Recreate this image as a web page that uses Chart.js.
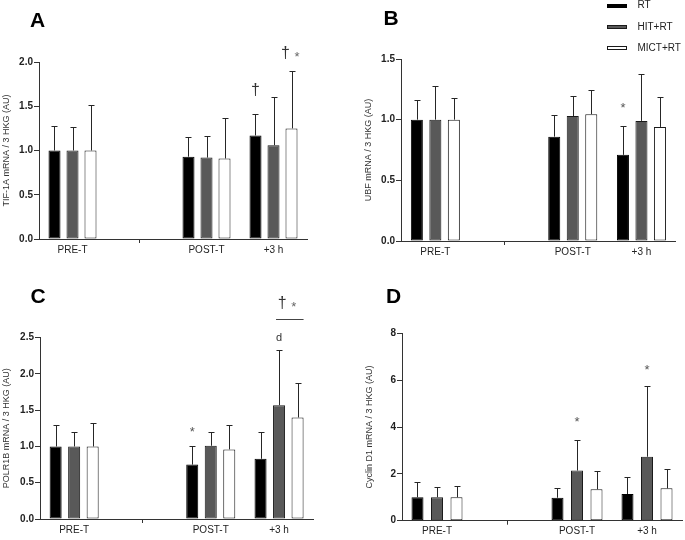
<!DOCTYPE html>
<html><head><meta charset="utf-8">
<script src="https://cdn.jsdelivr.net/npm/chart.js@4"></script>
<style>
html,body{margin:0;padding:0;background:#fff;}
#wrap{position:relative;width:685px;height:540px;overflow:hidden;}
.p{position:absolute;}
canvas{display:block;}
</style></head><body>
<div id="wrap">
<div class="p" style="left:0;top:0"><canvas id="cA" width="340" height="270"></canvas></div>
<div class="p" style="left:340px;top:0"><canvas id="cB" width="345" height="270"></canvas></div>
<div class="p" style="left:0;top:270px"><canvas id="cC" width="340" height="270"></canvas></div>
<div class="p" style="left:340px;top:270px"><canvas id="cD" width="345" height="270"></canvas></div>
</div>
<script>
// ---------- data ----------
const categories = ['PRE-T', '', 'POST-T', '+3 h'];
const groups = ['RT', 'HIT+RT', 'MICT+RT'];

// A: TIF-1A
const tifRT     = [1.00, null, 0.93, 1.17];
const tifHIT    = [1.00, null, 0.92, 1.06];
const tifMICT   = [1.00, null, 0.91, 1.25];
const tifRTsd   = [0.28, null, 0.22, 0.24];
const tifHITsd  = [0.26, null, 0.24, 0.55];
const tifMICTsd = [0.51, null, 0.46, 0.65];
const tifTicks  = [0, 0.5, 1.0, 1.5, 2.0];

// B: UBF
const ubfRT     = [1.00, null, 0.86, 0.71];
const ubfHIT    = [1.00, null, 1.03, 0.99];
const ubfMICT   = [1.00, null, 1.045, 0.94];
const ubfRTsd   = [0.16, null, 0.18, 0.24];
const ubfHITsd  = [0.28, null, 0.165, 0.39];
const ubfMICTsd = [0.18, null, 0.20, 0.25];
const ubfTicks  = [0, 0.5, 1.0, 1.5];

// C: POLR1B
const polRT     = [1.00, null, 0.75, 0.83];
const polHIT    = [1.00, null, 1.01, 1.57];
const polMICT   = [1.00, null, 0.96, 1.40];
const polRTsd   = [0.29, null, 0.25, 0.37];
const polHITsd  = [0.20, null, 0.19, 0.76];
const polMICTsd = [0.32, null, 0.33, 0.48];
const polTicks  = [0, 0.5, 1.0, 1.5, 2.0, 2.5];

// D: Cyclin D1
const cycRT     = [1.00, null, 0.98, 1.14];
const cycHIT    = [1.00, null, 2.14, 2.73];
const cycMICT   = [1.00, null, 1.34, 1.38];
const cycRTsd   = [0.64, null, 0.43, 0.71];
const cycHITsd  = [0.42, null, 1.31, 3.00];
const cycMICTsd = [0.47, null, 0.80, 0.81];
const cycTicks  = [0, 2, 4, 6, 8];

// significance marks (category index, series index, symbol, y value)
const notesA = [{cat:3, series:0, text:'†', y:1.684}, {cat:3, series:2, text:'† *', y:2.11}];
const notesB = [{cat:3, series:0, text:'*', y:1.117}];
const notesC = [{cat:2, series:0, text:'*', y:1.228}, {cat:3, series:1, text:'d', y:2.51},
                {cat:3, series:1.5, text:'† *', y:2.99}, {cat:3, from:1, to:2, text:'line', y:2.76}];
const notesD = [{cat:2, series:1, text:'*', y:4.30}, {cat:3, series:1, text:'*', y:6.54}];

// ---------- rendering ----------
const FAM = '"Liberation Sans", Arial, Helvetica, sans-serif';
Chart.defaults.font.family = FAM;

const errPlugin = {
  id: 'errbars',
  afterDatasetsDraw(chart, args, opts) {
    const ctx = chart.ctx, ys = chart.scales.y;
    ctx.save();
    ctx.strokeStyle = '#262626'; ctx.lineWidth = 1;
    chart.data.datasets.forEach((ds, i) => {
      const meta = chart.getDatasetMeta(i), sd = opts.sd[i];
      meta.data.forEach((bar, j) => {
        const v = ds.data[j], e = sd[j];
        if (v == null || e == null) return;
        const top = Math.round(ys.getPixelForValue(v + e)) + 0.5;
        const x = Math.round(bar.x) + 0.5, half = bar.width / 4;
        ctx.beginPath();
        ctx.moveTo(x, bar.y); ctx.lineTo(x, top);
        ctx.moveTo(x - half, top); ctx.lineTo(x + half, top);
        ctx.stroke();
      });
    });
    ctx.restore();
  }
};

function drawCentered(ctx, txt, x, cy, font, color) {
  ctx.font = font; ctx.fillStyle = color;
  ctx.textAlign = 'center'; ctx.textBaseline = 'alphabetic';
  const m = ctx.measureText(txt);
  ctx.fillText(txt, x, cy + (m.actualBoundingBoxAscent - m.actualBoundingBoxDescent) / 2);
}

const notesPlugin = {
  id: 'notes',
  afterDraw(chart, args, opts) {
    const ctx = chart.ctx, ys = chart.scales.y;
    ctx.save();
    // panel letter
    if (opts.letter) {
      ctx.font = 'bold 21px ' + FAM; ctx.fillStyle = '#000';
      ctx.textAlign = 'left'; ctx.textBaseline = 'alphabetic';
      ctx.fillText(opts.letter.text, opts.letter.x, opts.letter.y);
    }
    const barAt = (s, c) => chart.getDatasetMeta(s).data[c];
    (opts.items || []).forEach(n => {
      const cy = ys.getPixelForValue(n.y);
      if (n.text === 'line') {
        const a = barAt(n.from, n.cat), b = barAt(n.to, n.cat);
        const yy = Math.round(cy) + 0.5;
        ctx.strokeStyle = '#444'; ctx.lineWidth = 1;
        ctx.beginPath(); ctx.moveTo(a.x - a.width / 4, yy); ctx.lineTo(b.x + b.width / 2, yy); ctx.stroke();
        return;
      }
      const s0 = Math.floor(n.series), s1 = Math.ceil(n.series);
      const x0 = barAt(s0, n.cat).x, x1 = barAt(s1, n.cat).x;
      const x = x0 + (x1 - x0) * (n.series - s0);
      if (n.text === '† *') {
        drawCentered(ctx, '†', x - 6, cy, '16px ' + FAM, '#333');
        drawCentered(ctx, '*', x + 5.5, cy + 2, '13px ' + FAM, '#666');
      } else if (n.text === '†') {
        drawCentered(ctx, '†', x, cy, '16px ' + FAM, '#333');
      } else if (n.text === '*') {
        drawCentered(ctx, '*', x, cy, '13px ' + FAM, '#555');
      } else {
        drawCentered(ctx, n.text, x, cy, '11px ' + FAM, '#333');
      }
    });
    // legend
    if (opts.legend) {
      const L = opts.legend;
      chart.data.datasets.forEach((ds, i) => {
        const cy = L.y + i * L.step;
        const top = Math.round(cy - 2);
        ctx.fillStyle = ds.backgroundColor;
        ctx.fillRect(L.x, top, 20, 4);
        ctx.strokeStyle = ds.borderColor; ctx.lineWidth = 1;
        ctx.strokeRect(L.x + 0.5, top + 0.5, 19, 3);
        ctx.font = '10px ' + FAM; ctx.fillStyle = '#222';
        ctx.textAlign = 'left'; ctx.textBaseline = 'middle';
        ctx.fillText(ds.label, L.tx, cy);
      });
    }
    ctx.restore();
  }
};

function makeChart(id, c) {
  return new Chart(document.getElementById(id), {
    type: 'bar',
    data: {
      labels: categories,
      datasets: [
        {label: groups[0], data: c.values[0], backgroundColor: '#000000', borderColor: '#000000'},
        {label: groups[1], data: c.values[1], backgroundColor: '#595959', borderColor: '#1a1a1a'},
        {label: groups[2], data: c.values[2], backgroundColor: '#ffffff', borderColor: '#1a1a1a'}
      ]
    },
    options: {
      responsive: false, animation: false, devicePixelRatio: 1,
      layout: {padding: c.pad},
      datasets: {bar: {categoryPercentage: c.cp, barPercentage: c.bp, borderWidth: 1, borderSkipped: false}},
      plugins: {
        legend: {display: false}, tooltip: {enabled: false},
        errbars: {sd: c.sd},
        notes: {items: c.notes, letter: c.letter, legend: c.legend}
      },
      scales: {
        x: {
          offset: true,
          grid: {offset: false, drawOnChartArea: false, tickLength: 4, lineWidth: 1,
                 color: ctx => ctx.index === 1 ? '#333' : 'rgba(0,0,0,0)',
                 tickColor: ctx => ctx.index === 1 ? '#333' : 'rgba(0,0,0,0)'},
          border: {color: '#333', width: 1},
          ticks: {font: {size: 10}, color: '#222', padding: 1, autoSkip: false, maxRotation: 0},
          afterFit: s => { s.height = c.xH; }
        },
        y: {
          min: c.ticks[0], max: c.ticks[c.ticks.length - 1],
          afterBuildTicks: s => { s.ticks = c.ticks.map(v => ({value: v})); },
          ticks: {font: {size: 10, weight: 'bold'}, color: '#222', padding: 1,
                  callback: v => c.dec ? Number(v).toFixed(c.dec) : String(v)},
          grid: {drawOnChartArea: false, tickLength: 5, color: '#333'},
          border: {color: '#333', width: 1},
          title: {display: true, text: c.title, font: {size: 9}, color: '#333', padding: {top: 1, bottom: 0}},
          afterFit: s => { s.width = c.yW; }
        }
      }
    },
    plugins: [errPlugin, notesPlugin]
  });
}

makeChart('cA', {
  values: [tifRT, tifHIT, tifMICT], sd: [tifRTsd, tifHITsd, tifMICTsd], ticks: tifTicks, dec: 1,
  title: 'TIF-1A mRNA / 3 HKG (AU)', notes: notesA,
  pad: {left: 0, right: 33, top: 62, bottom: 11}, yW: 39, xH: 20, cp: 0.806, bp: 0.667,
  letter: {text: 'A', x: 30, y: 26.7}
});
makeChart('cB', {
  values: [ubfRT, ubfHIT, ubfMICT], sd: [ubfRTsd, ubfHITsd, ubfMICTsd], ticks: ubfTicks, dec: 1,
  title: 'UBF mRNA / 3 HKG (AU)', notes: notesB,
  pad: {left: 22.6, right: 9.2, top: 59, bottom: 9}, yW: 38.4, xH: 20, cp: 0.808, bp: 0.65,
  letter: {text: 'B', x: 43.5, y: 25},
  legend: {x: 267, tx: 297.5, y: 5.5, step: 21.3}
});
makeChart('cC', {
  values: [polRT, polHIT, polMICT], sd: [polRTsd, polHITsd, polMICTsd], ticks: polTicks, dec: 1,
  title: 'POLR1B mRNA / 3 HKG (AU)', notes: notesC,
  pad: {left: 0, right: 26.8, top: 67.7, bottom: 1}, yW: 40, xH: 20, cp: 0.813, bp: 0.65,
  letter: {text: 'C', x: 30.5, y: 32.5}
});
makeChart('cD', {
  values: [cycRT, cycHIT, cycMICT], sd: [cycRTsd, cycHITsd, cycMICTsd], ticks: cycTicks, dec: 0,
  title: 'Cyclin D1 mRNA / 3 HKG (AU)', notes: notesD,
  pad: {left: 23.6, right: 3, top: 63.3, bottom: 1.3}, yW: 38.4, xH: 18, cp: 0.836, bp: 0.615,
  letter: {text: 'D', x: 46, y: 33}
});
</script>
</body></html>
